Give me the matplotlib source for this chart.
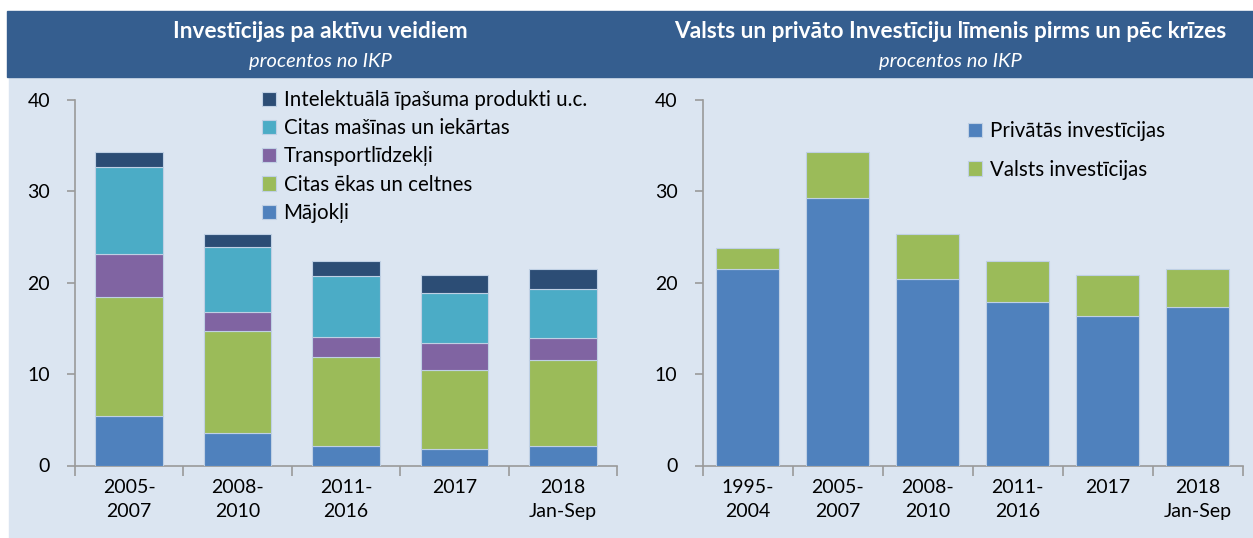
import matplotlib.pyplot as plt
import numpy as np
from matplotlib.patches import Rectangle

plt.rcParams["font.family"] = ["Lato", "DejaVu Sans"]

# left chart: investment by asset type (% of GDP)
left_periods = ["2005-\n2007", "2008-\n2010", "2011-\n2016", "2017", "2018\nJan-Sep"]
majokli = [5.4, 3.6, 2.1, 1.8, 2.1]
citas_ekas = [13.0, 11.1, 9.8, 8.7, 9.4]
transports = [4.7, 2.1, 2.2, 2.9, 2.5]
citas_masinas = [9.6, 7.1, 6.65, 5.5, 5.3]
intelektualie = [1.6, 1.45, 1.65, 2.0, 2.2]
left_labels = [
    "Mājokļi",
    "Citas ēkas un celtnes",
    "Transportlīdzekļi",
    "Citas mašīnas un iekārtas",
    "Intelektuālā īpašuma produkti u.c.",
]

# right chart: private vs public investment (% of GDP)
right_periods = ["1995-\n2004", "2005-\n2007", "2008-\n2010", "2011-\n2016", "2017", "2018\nJan-Sep"]
privatas = [21.5, 29.3, 20.4, 17.9, 16.4, 17.4]
valsts = [2.3, 5.0, 4.9, 4.5, 4.5, 4.1]
right_labels = ["Privātās investīcijas", "Valsts investīcijas"]

colors_left = ["#4F81BD", "#9BBB59", "#8064A2", "#4BACC6", "#2C4D75"]
colors_right = ["#4F81BD", "#9BBB59"]
header_color = "#355E8F"
bg_color = "#DBE5F1"
axis_color = "#9A9A9A"
edge = "#BFD0E4"

W, H = 1253, 538
fig = plt.figure(figsize=(W / 100, H / 100), dpi=100)

# background panel and header band (behind the axes)
fig.patches.append(Rectangle((9 / W, 0), 1 - 9 / W, 1 - 77 / H,
                             transform=fig.transFigure, color=bg_color, zorder=-5))
fig.patches.append(Rectangle((7 / W, 1 - 77 / H), 1 - 7 / W, 66 / H,
                             transform=fig.transFigure, color=header_color, zorder=-5))

fig.text(320 / W, 1 - 32 / H, "Investīcijas pa aktīvu veidiem", color="white",
         fontsize=16.3, fontweight="bold", ha="center", va="center")
fig.text(320 / W, 1 - 61 / H, "procentos no IKP", color="white",
         fontsize=14.5, style="italic", ha="center", va="center")
fig.text(950 / W, 1 - 32 / H, "Valsts un privāto Investīciju līmenis pirms un pēc krīzes",
         color="white", fontsize=16.3, fontweight="bold", ha="center", va="center")
fig.text(950 / W, 1 - 61 / H, "procentos no IKP", color="white",
         fontsize=14.5, style="italic", ha="center", va="center")

bottom_frac = (H - 465.5) / H
height_frac = 365.5 / H
ax1 = fig.add_axes([75 / W, bottom_frac, 542 / W, height_frac])
ax2 = fig.add_axes([702.5 / W, bottom_frac, 540 / W, height_frac])


def style_axis(ax, n, labels):
    ax.set_facecolor("none")
    ax.set_xlim(-0.5, n - 0.5)
    ax.set_ylim(0, 40)
    ax.set_yticks([0, 10, 20, 30, 40])
    for s in ["top", "right"]:
        ax.spines[s].set_visible(False)
    for s in ["left", "bottom"]:
        ax.spines[s].set_color(axis_color)
        ax.spines[s].set_linewidth(1.2)
    ax.set_xticks(np.arange(n))
    ax.set_xticklabels(labels, fontsize=14, linespacing=1.45)
    ax.set_xticks(np.arange(n + 1) - 0.5, minor=True)
    ax.tick_params(axis="x", which="major", length=0, pad=10)
    ax.tick_params(axis="x", which="minor", length=7, color=axis_color, width=1.2)
    ax.tick_params(axis="y", length=6, color=axis_color, width=1.2, labelsize=14, pad=12)


# left stacked bars
x1 = np.arange(len(left_periods))
series = [majokli, citas_ekas, transports, citas_masinas, intelektualie]
bottom = np.zeros(len(left_periods))
handles1 = []
for vals, col, lab in zip(series, colors_left, left_labels):
    b = ax1.bar(x1, vals, width=0.625, bottom=bottom, color=col, label=lab,
                edgecolor=edge, linewidth=0.8, zorder=3)
    handles1.append(b)
    bottom += np.array(vals)
style_axis(ax1, len(left_periods), left_periods)

ax1.legend(handles1[::-1], left_labels[::-1], loc="upper left",
           bbox_to_anchor=(262 / W, 1 - 90 / H), bbox_transform=fig.transFigure,
           frameon=False, fontsize=14.8, handlelength=0.7, handleheight=0.7,
           handletextpad=0.35, labelspacing=0.4, borderaxespad=0, borderpad=0)

# right stacked bars
x2 = np.arange(len(right_periods))
h_priv = ax2.bar(x2, privatas, width=0.71, color=colors_right[0],
                 edgecolor=edge, linewidth=0.8, zorder=3)
h_val = ax2.bar(x2, valsts, width=0.71, bottom=privatas, color=colors_right[1],
                edgecolor=edge, linewidth=0.8, zorder=3)
style_axis(ax2, len(right_periods), right_periods)

ax2.legend([h_priv, h_val], right_labels, loc="upper left",
           bbox_to_anchor=(968 / W, 1 - 121 / H), bbox_transform=fig.transFigure,
           frameon=False, fontsize=14.8, handlelength=0.7, handleheight=0.7,
           handletextpad=0.35, labelspacing=0.9, borderaxespad=0, borderpad=0)

fig.savefig("out.png", dpi=100)
